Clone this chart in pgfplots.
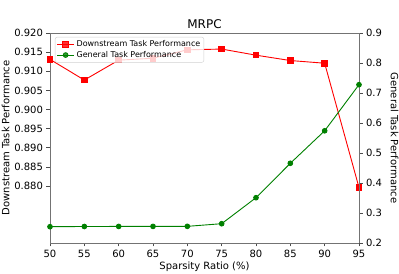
\documentclass[border=0pt]{standalone}
\usepackage{fontspec}
\setmainfont{DejaVu Sans}
\usepackage{pgfplots}
\pgfplotsset{compat=1.18}
\pgfplotsset{common/.style={
  scale only axis, width=309pt, height=210pt,
  xmin=50, xmax=95,
  tick align=outside, major tick length=3.5pt,
  tick style={black!70, line width=0.6pt},
  axis line style={black!55, line width=0.8pt},
  tick label style={font=\fontsize{10}{12}\selectfont},
  label style={font=\fontsize{10}{12}\selectfont},
  /pgf/number format/assume math mode=true,
}}
\begin{document}
\begin{tikzpicture}
\begin{axis}[common,
  xtick={50,55,...,95}, xtick pos=bottom, ytick pos=left,
  ymin=0.8651, ymax=0.920,
  ytick={0.880,0.885,0.890,0.895,0.900,0.905,0.910,0.915,0.920},
  yticklabel style={/pgf/number format/.cd, fixed, fixed zerofill, precision=3},
  ylabel={Downstream Task Performance},
  xlabel={Sparsity Ratio (\%)},
  title={MRPC}, title style={font=\fontsize{12}{14}\selectfont, at={(0.5,1)}, anchor=base, yshift=-1.5pt},
  ylabel style={yshift=-2pt},
  xlabel style={yshift=3pt},
]
\addplot[red, line width=0.9pt, mark=square*, mark size=2.75pt] coordinates {
(50,0.9131) (55,0.9077) (60,0.9129) (65,0.9134) (70,0.9156)
(75,0.9158) (80,0.9142) (85,0.9128) (90,0.9121) (95,0.8796)};
\coordinate (sw) at (rel axis cs:0,0);
\coordinate (ne) at (rel axis cs:1,1);
\end{axis}
\begin{axis}[common,
  axis y line*=right, axis x line=none,
  ymin=0.2, ymax=0.9,
  ytick={0.2,0.3,0.4,0.5,0.6,0.7,0.8,0.9},
  yticklabel style={/pgf/number format/.cd, fixed, fixed zerofill, precision=1},
  ylabel={General Task Performance},
  ylabel style={rotate=180, yshift=2pt},
  legend style={at={(0.016,0.981)}, anchor=north west, draw=black!18,
    rounded corners=2pt, fill=white, fill opacity=0.8, draw opacity=1, text opacity=1,
    font=\fontsize{8}{9.5}\selectfont, inner sep=1.5pt, row sep=-1pt},
  legend cell align=left,
]
\addlegendimage{red, line width=0.9pt, mark=square*, mark size=2.75pt}
\addlegendentry{Downstream Task Performance}
\addplot[black!50!green, line width=0.9pt, mark=*, mark size=2.35pt] coordinates {
(50,0.2543) (55,0.2550) (60,0.2552) (65,0.2553) (70,0.2555)
(75,0.2643) (80,0.3510) (85,0.4657) (90,0.5740) (95,0.7277)};
\addlegendentry{General Task Performance}
\end{axis}
\pgfresetboundingbox
\path ([shift={(-50pt,-31pt)}]sw) rectangle ([shift={(40pt,33pt)}]ne);
\end{tikzpicture}
\end{document}
